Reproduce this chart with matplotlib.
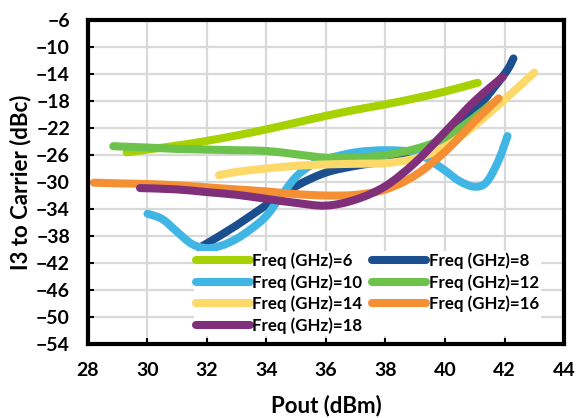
import matplotlib
matplotlib.use("Agg")
import matplotlib.pyplot as plt
from matplotlib.path import Path
from matplotlib.patches import PathPatch
from matplotlib.lines import Line2D

plt.rcParams['font.family'] = ['Lato', 'DejaVu Sans']
plt.rcParams['font.weight'] = 'bold'

# Pout (dBm) / I3 to carrier (dBc) per frequency
pout_6 = [29.3, 30, 31, 32, 33, 34, 35, 36, 37, 38, 39, 40, 41.1]
i3_6 = [-25.6, -25.2, -24.6, -23.9, -23.1, -22.2, -21.2, -20.2, -19.3, -18.5, -17.6, -16.6, -15.3]

pout_8 = [31.75, 32, 33, 34, 35, 36, 37, 38, 39, 40, 41, 42, 42.3]
i3_8 = [-39.7, -39.1, -36.4, -33.4, -30.6, -28.6, -27.6, -26.9, -25.6, -23.2, -19.4, -14.0, -11.7]

pout_10 = [30.0, 30.5, 31, 31.5, 32, 32.5, 33, 33.5, 34, 34.5, 35, 35.5, 36, 37, 38, 39,
           39.5, 40, 40.5, 41, 41.4, 41.8, 42.1]
i3_10 = [-34.7, -35.5, -37.4, -39.2, -39.8, -39.4, -38.4, -36.9, -35.0, -32.0, -29.2, -27.5,
         -26.6, -25.6, -25.3, -25.6, -26.8, -28.3, -29.9, -30.7, -30.0, -26.8, -23.2]

pout_12 = [28.85, 30, 31, 32, 33, 34, 35, 36, 37, 38, 39, 40, 41, 41.5]
i3_12 = [-24.7, -24.9, -25.1, -25.2, -25.3, -25.4, -25.9, -26.4, -26.4, -26.0, -25.1, -23.5, -20.4, -18.6]

pout_14 = [32.4, 33, 34, 35, 36, 37, 38, 39, 40, 41, 42, 43]
i3_14 = [-29.0, -28.5, -28.0, -27.6, -27.4, -27.3, -27.2, -26.5, -24.8, -21.6, -17.8, -13.8]

pout_16 = [28.2, 29, 30, 31, 32, 33, 34, 35, 36, 37, 38, 39, 40, 41, 41.8]
i3_16 = [-30.1, -30.2, -30.3, -30.5, -30.8, -31.1, -31.4, -31.8, -32.0, -31.9, -31.1, -29.0,
         -25.5, -21.0, -17.6]

pout_18 = [29.75, 31, 32, 33, 34, 35, 36, 37, 38, 39, 40, 41, 41.95]
i3_18 = [-30.9, -31.1, -31.5, -31.9, -32.5, -33.1, -33.5, -32.6, -30.6, -27.1, -22.6, -18.0, -14.4]

freqs = [6, 8, 10, 12, 14, 16, 18]
series = [(pout_6, i3_6), (pout_8, i3_8), (pout_10, i3_10), (pout_12, i3_12),
          (pout_14, i3_14), (pout_16, i3_16), (pout_18, i3_18)]
colors = ['#A5D200', '#1C4F8E', '#41B6E5', '#6CC24A', '#FDD96A', '#F58F33', '#80307A']

x_ticks = list(range(28, 45, 2))
y_ticks = list(range(-54, -5, 4))

LW = 5.8


def smooth_path(x, y):
    """Smoothed line through the points, as cubic Bezier segments (Catmull-Rom)."""
    pts = list(zip(x, y))
    n = len(pts)
    verts = [pts[0]]
    codes = [Path.MOVETO]
    for i in range(n - 1):
        p0 = pts[i - 1] if i > 0 else pts[i]
        p1 = pts[i]
        p2 = pts[i + 1]
        p3 = pts[i + 2] if i + 2 < n else pts[i + 1]
        c1 = (p1[0] + (p2[0] - p0[0]) / 6, p1[1] + (p2[1] - p0[1]) / 6)
        c2 = (p2[0] - (p3[0] - p1[0]) / 6, p2[1] - (p3[1] - p1[1]) / 6)
        verts += [c1, c2, p2]
        codes += [Path.CURVE4] * 3
    return Path(verts, codes)


fig = plt.figure(figsize=(5.78, 4.18), dpi=100)
ax = fig.add_axes([0.1522, 0.177, 0.8236, 0.7752])

handles = {}
for k, (f, (x, y), c) in enumerate(zip(freqs, series, colors)):
    patch = PathPatch(smooth_path(x, y), facecolor='none', edgecolor=c, lw=LW,
                      capstyle='round', joinstyle='round', zorder=2 + k * 0.01)
    ax.add_patch(patch)
    handles[f] = Line2D([], [], color=c, lw=LW, solid_capstyle='round',
                        label=f'Freq (GHz)={f}')

ax.set_xlim(28, 44)
ax.set_ylim(-54, -6)
ax.set_xticks(x_ticks)
ax.set_yticks(y_ticks)
ax.grid(True, color='#D9D9D9', lw=1.6)
ax.set_axisbelow(True)

for s in ax.spines.values():
    s.set_linewidth(3.0)
    s.set_color('black')

ax.tick_params(axis='both', direction='in', length=4, width=1.5, labelsize=14)
ax.tick_params(axis='x', pad=13)
ax.tick_params(axis='y', pad=13)
for lab in ax.get_xticklabels() + ax.get_yticklabels():
    lab.set_fontweight('bold')

ax.set_xlabel('Pout (dBm)', fontsize=16, fontweight='bold', labelpad=11)
ax.set_ylabel('I3 to Carrier (dBc)', fontsize=16, fontweight='bold', labelpad=3)

order = [6, 10, 14, 18, 8, 12, 16]
leg = ax.legend([handles[f] for f in order], [handles[f].get_label() for f in order],
                ncol=2, loc='lower left', bbox_to_anchor=(0.205, 0.0),
                frameon=True, framealpha=1.0, edgecolor='none', facecolor='white',
                fancybox=False, prop={'size': 12.2, 'weight': 'bold'},
                handlelength=3.2, handletextpad=0.15, columnspacing=0.55,
                labelspacing=0.3, borderpad=0.1, borderaxespad=0.5)
leg.set_zorder(5)

fig.savefig('out.png', dpi=100)
